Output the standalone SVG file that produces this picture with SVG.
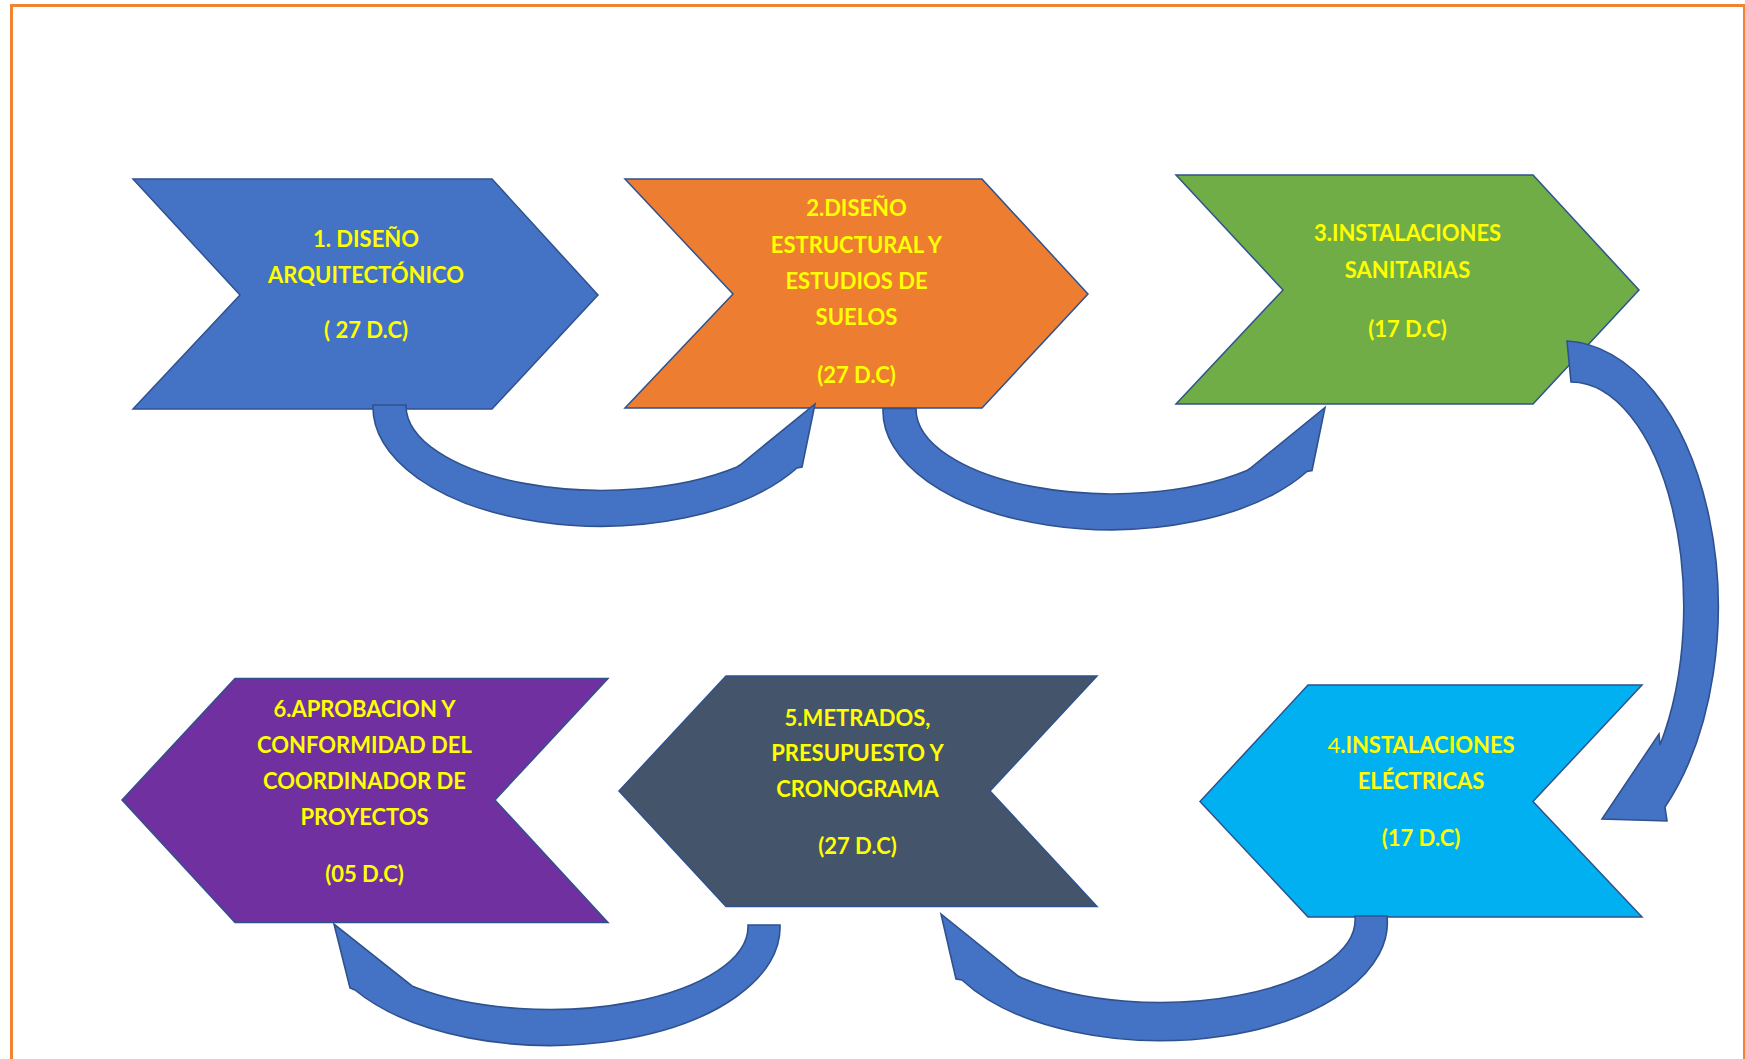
<svg xmlns="http://www.w3.org/2000/svg" width="1745" height="1059" viewBox="0 0 1745 1059">
<style>
.chev{stroke:#2F528F;stroke-width:1.5;stroke-linejoin:miter}
.arr{fill:#4472C4;stroke:#2F528F;stroke-width:1.6;stroke-linejoin:miter}
.lbl{font-family:Lato,"Open Sans","Liberation Sans",sans-serif;font-weight:700;font-size:22px;fill:#FFFF00;text-anchor:middle}
</style>
<rect x="0" y="0" width="1745" height="1059" fill="#FFFFFF"/>
<path d="M11.5,1060 V5.5 H1744.5 V1060" fill="none" stroke="#F08432" stroke-width="3"/>

<g id="node1">
<polygon class="chev" fill="#4472C4" points="133,179 492,179 598,295 492,409 133,409 240,295"/>
<text class="lbl" x="366" y="247">1. DISEÑO</text>
<text class="lbl" x="366" y="283">ARQUITECTÓNICO</text>
<text class="lbl" x="366" y="338">( 27 D.C)</text>
</g>

<g id="node2">
<polygon class="chev" fill="#ED7D31" points="625,179 982,179 1088,294 982,408 625,408 733,294"/>
<text class="lbl" x="856.5" y="215.5">2.DISEÑO</text>
<text class="lbl" x="856.5" y="252.5">ESTRUCTURAL Y</text>
<text class="lbl" x="856.5" y="289">ESTUDIOS DE</text>
<text class="lbl" x="856.5" y="325">SUELOS</text>
<text class="lbl" x="856.5" y="383">(27 D.C)</text>
</g>

<g id="node3">
<polygon class="chev" fill="#70AD47" points="1176,175 1533,175 1639,290 1533,404 1176,404 1283,290"/>
<text class="lbl" x="1407.5" y="241">3.INSTALACIONES</text>
<text class="lbl" x="1407.5" y="277.5">SANITARIAS</text>
<text class="lbl" x="1407.5" y="336.5">(17 D.C)</text>
</g>

<g id="node4">
<polygon class="chev" fill="#00B0F0" points="1200,801.5 1308,685 1642,685 1533,801.5 1642,917 1308,917"/>
<text class="lbl" x="1421" y="753"><tspan font-weight="400">4</tspan>.INSTALACIONES</text>
<text class="lbl" x="1421" y="789">ELÉCTRICAS</text>
<text class="lbl" x="1421" y="845.5">(17 D.C)</text>
</g>

<g id="node5">
<polygon class="chev" fill="#44546A" points="619,791 726,676 1097,676 990,791 1097,906.5 726,906.5"/>
<text class="lbl" x="857.5" y="725.5">5.METRADOS,</text>
<text class="lbl" x="857.5" y="761">PRESUPUESTO Y</text>
<text class="lbl" x="857.5" y="796.5">CRONOGRAMA</text>
<text class="lbl" x="857.5" y="854">(27 D.C)</text>
</g>

<g id="node6">
<polygon class="chev" fill="#7030A0" points="122,800 235,678.5 608,678.5 495,800 608,922.5 235,922.5"/>
<text class="lbl" x="364.5" y="716.5">6.APROBACION Y</text>
<text class="lbl" x="364.5" y="753">CONFORMIDAD DEL</text>
<text class="lbl" x="364.5" y="789">COORDINADOR DE</text>
<text class="lbl" x="364.5" y="825">PROYECTOS</text>
<text class="lbl" x="364.5" y="881.5">(05 D.C)</text>
</g>

<g id="connectors">
<path class="arr" d="M373,405 A228,119 0 0 0 797,468 L802,467 L815,404 L740,465 L737,467 A196,85 0 0 1 406,405 Z"/>
<path class="arr" d="M883,408.5 A228,119 0 0 0 1307,471.5 L1312,470.5 L1325,407.5 L1250,468.5 L1247,470.5 A196,85 0 0 1 916,408.5 Z"/>
<path class="arr" d="M1567,341 A156,266 0 0 1 1665,807 L1667,821 L1602,819 L1659,734 L1660,745 A113,225 0 0 0 1571,382 Z"/>
<path class="arr" d="M1387,916 A227,118 0 0 1 962,980 L956,979 L941,914 L1018,976 L1022,978 A195,83 0 0 0 1355,916 Z"/>
<path class="arr" d="M780,925 A230,118 0 0 1 355,990 L350,988 L334,924 L412,986 L417,988 A198,83 0 0 0 748,925 Z"/>
</g>
</svg>
